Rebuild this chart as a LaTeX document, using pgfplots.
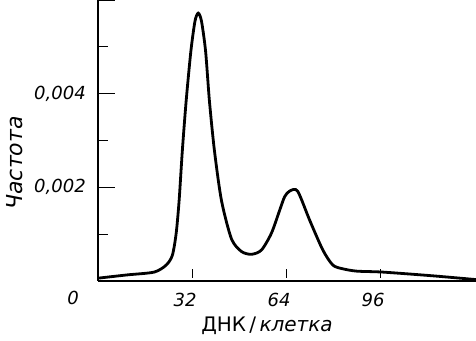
\documentclass[border=0pt]{standalone}
\usepackage{fontspec}
\setmainfont{DejaVu Sans}
\usepackage{pgfplots}
\pgfplotsset{compat=1.18}
\begin{document}
\begin{tikzpicture}
\begin{axis}[
  name=ax,
  scale only axis,
  width=378pt, height=281pt,
  xmin=0, xmax=128.6, ymin=0, ymax=0.006,
  axis x line=bottom, axis y line=left,
  axis line style={-, line width=1.4pt},
  xtick=\empty,
  extra x ticks={32,64,96}, extra x tick labels={32,64,96},
  extra x tick style={major tick length=9pt, tick style={line width=0.9pt, black, yshift=3pt},
     xticklabel style={anchor=center, yshift=-19pt, xshift=-7pt}},
  ytick={0.002,0.004,0.006}, yticklabels={{0,002},{0,004},{}},
  minor ytick={0.001,0.003,0.005},
  scaled y ticks=false,
  /pgf/number format/assume math mode=true,
  tick align=inside,
  major tick length=17pt, minor tick length=10pt,
  ytick style={line width=1.1pt, black},
  every tick label/.append style={font=\fontsize{18}{18}\selectfont\itshape},
  yticklabel style={anchor=center, xshift=-38pt},
  clip=false,
]
\addplot[smooth, tension=0.45, line width=2.8pt, black] coordinates {
(0,0.00006) (9.9,0.00013) (19.1,0.00019) (23.2,0.00034) (25.3,0.00055)
(26.6,0.00102) (27.6,0.00172) (28.7,0.00279) (30.0,0.00385) (31.6,0.00491)
(33.0,0.00555) (34.1,0.00572) (35.2,0.00555) (36.6,0.00491) (37.9,0.00385)
(39.6,0.00279) (42.0,0.00172) (45.4,0.00090) (48.8,0.00063) (52.2,0.00057)
(55.6,0.00066) (59.0,0.00102) (61.8,0.00151) (63.5,0.00180) (65.2,0.00192)
(67.9,0.00192) (72.0,0.00130) (76.5,0.00066) (79.9,0.00034) (83.3,0.00026)
(88.1,0.00021) (96.9,0.00019) (114,0.00011) (128.6,0.00003)
};
\end{axis}
\node[font=\fontsize{18}{18}\selectfont\itshape] at ([shift={(-25pt,-17pt)}]ax.south west) {0};
\node[rotate=90, font=\fontsize{22}{22}\selectfont\itshape] at ([shift={(-83pt,118pt)}]ax.south west) {Частота};
\node[font=\fontsize{20}{20}\selectfont] at ([shift={(169pt,-45pt)}]ax.south west) {ДНК\,/\,\textit{клетка}};
\pgfresetboundingbox
\path ([shift={(-98pt,-60pt)}]ax.south west) rectangle (ax.north east);
\end{tikzpicture}
\end{document}
